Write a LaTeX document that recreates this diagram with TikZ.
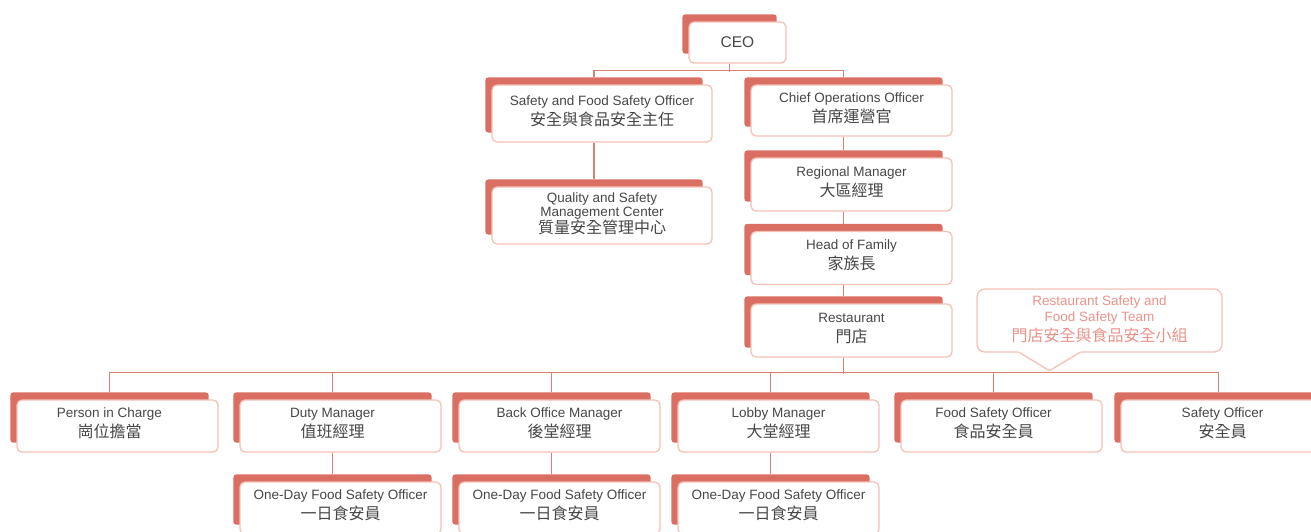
\documentclass[tikz,border=0pt]{standalone}
\usepackage{fontspec}
\setmainfont{Liberation Sans}
\newfontfamily\cjk{Noto Sans CJK TC}
\usepackage{xcolor}
\usetikzlibrary{backgrounds}

\definecolor{backred}{HTML}{DA6E63}
\definecolor{edgepink}{HTML}{F5C1B6}
\definecolor{linkred}{HTML}{DC7F75}
\definecolor{txtgray}{HTML}{474747}
\definecolor{teamred}{HTML}{E9948A}

\tikzset{
  orgbox/.style={draw=edgepink, line width=1.3pt, fill=white, rounded corners=5pt,
    minimum width=201pt, minimum height=53pt, inner sep=1pt, align=center,
    text=txtgray, font=\fontsize{13.5}{20}\selectfont},
  boxtext/.style={align=center, inner sep=0pt, text=txtgray, font=\fontsize{13.5}{20}\selectfont},
  link/.style={draw=linkred, line width=1.3pt}
}
% english line over chinese line
\newcommand\twoline[2]{#1\\{\cjk\fontsize{16}{20}\selectfont #2}\rule[-6pt]{0pt}{6pt}}
% top of the back box / bottom of the front box, on the back box axis
\newcommand\bt[1]{([xshift=-8pt,yshift=7pt]#1.north)}
\newcommand\fb[1]{([xshift=-8pt]#1.south)}

\begin{document}
\begin{tikzpicture}[x=1pt,y=-1pt]
\clip (0,0) rectangle (1311,531);

\node[orgbox, minimum width=97pt, minimum height=41pt, font=\fontsize{15.5}{18}\selectfont] (ceo) at (737.5,42.5) {CEO};
\node[orgbox, minimum width=220pt, minimum height=57pt] (sfso) at (602,113.5) {\twoline{Safety and Food Safety Officer}{安全與食品安全主任}};
\node[orgbox, minimum height=51pt] (coo) at (851.5,110.5) {\twoline{Chief Operations Officer}{首席運營官}};
\node[orgbox, minimum width=220pt, minimum height=57pt] (qsmc) at (602,215.5) {Quality and Safety\\[-6pt]Management Center\\[-3pt]{\cjk\fontsize{16}{20}\selectfont 質量安全管理中心}\rule[-5pt]{0pt}{5pt}};
\node[orgbox] (rm) at (851.5,184.5) {\twoline{Regional Manager}{大區經理}};
\node[orgbox] (hof) at (851.5,258) {\twoline{Head of Family}{家族長}};
\node[orgbox] (rest) at (851.5,330.5) {\twoline{Restaurant}{門店}};

% team callout
\node[draw=edgepink, line width=1.3pt, fill=white, rounded corners=8pt, minimum width=245pt,
  minimum height=63pt, align=center, text=teamred, font=\fontsize{13.5}{16}\selectfont] (team) at (1099.5,320.5)
  {Restaurant Safety and\\Food Safety Team\\[2pt]{\cjk\fontsize{16}{20}\selectfont 門店安全與食品安全小組}\rule[-4pt]{0pt}{4pt}};
\fill[white] ([xshift=-82pt,yshift=1.5pt]team.south) -- ([xshift=-50pt,yshift=-18pt]team.south) -- ([xshift=-18pt,yshift=1.5pt]team.south) -- cycle;
\draw[draw=edgepink, line width=1.3pt, line join=round] ([xshift=-81pt,yshift=0.65pt]team.south) -- ([xshift=-50pt,yshift=-18pt]team.south) -- ([xshift=-19pt,yshift=0.65pt]team.south);

% bottom row
\node[orgbox, minimum height=52pt, label={[boxtext, xshift=-8pt]center:{\twoline{Person in Charge}{崗位擔當}}}] (pic) at (117.5,426) {};
\node[orgbox, minimum height=52pt, label={[boxtext, xshift=-8pt]center:{\twoline{Duty Manager}{值班經理}}}] (dm) at (340.5,426) {};
\node[orgbox, minimum height=52pt] (bom) at (559.5,426) {\twoline{Back Office Manager}{後堂經理}};
\node[orgbox, minimum height=52pt] (lm) at (778.5,426) {\twoline{Lobby Manager}{大堂經理}};
\node[orgbox, minimum height=52pt, label={[boxtext, xshift=-8pt]center:{\twoline{Food Safety Officer}{食品安全員}}}] (fso) at (1001.5,426) {};
\node[orgbox, minimum height=52pt, minimum width=211pt, label={[boxtext, xshift=-4pt]center:{\twoline{Safety Officer}{安全員}}}] (so) at (1226.5,426) {};

% one-day officers
\node[orgbox, minimum height=52pt] (od1) at (340.5,508) {\twoline{One-Day Food Safety Officer}{一日食安員}};
\node[orgbox, minimum height=52pt] (od2) at (559.5,508) {\twoline{One-Day Food Safety Officer}{一日食安員}};
\node[orgbox, minimum height=52pt] (od3) at (778.5,508) {\twoline{One-Day Food Safety Officer}{一日食安員}};

\begin{scope}[on background layer]
\foreach \n in {ceo,sfso,coo,qsmc,rm,hof,rest,pic,dm,bom,lm,fso,so,od1,od2,od3}
  \fill[backred, rounded corners=3pt] ([xshift=-6pt,yshift=7pt]\n.north west) rectangle ([xshift=-10pt,yshift=10pt]\n.south east);
\end{scope}

% connectors
\draw[link] \fb{ceo} -- ++(0,8);
\draw[link] \bt{sfso} -- ++(0,-7) -| \bt{coo};
\draw[link] \fb{sfso} -- \bt{qsmc};
\draw[link] \fb{coo} -- \bt{rm};
\draw[link] \fb{rm} -- \bt{hof};
\draw[link] \fb{hof} -- \bt{rest};
\draw[link] \fb{rest} -- ++(0,16);
\draw[link] \bt{pic} -- ++(0,-20) -| \bt{so};
\foreach \n in {dm,bom,lm,fso}
  \draw[link] \bt{\n} -- ++(0,-20);
\draw[link] \fb{dm} -- \bt{od1};
\draw[link] \fb{bom} -- \bt{od2};
\draw[link] \fb{lm} -- \bt{od3};
\end{tikzpicture}
\end{document}
